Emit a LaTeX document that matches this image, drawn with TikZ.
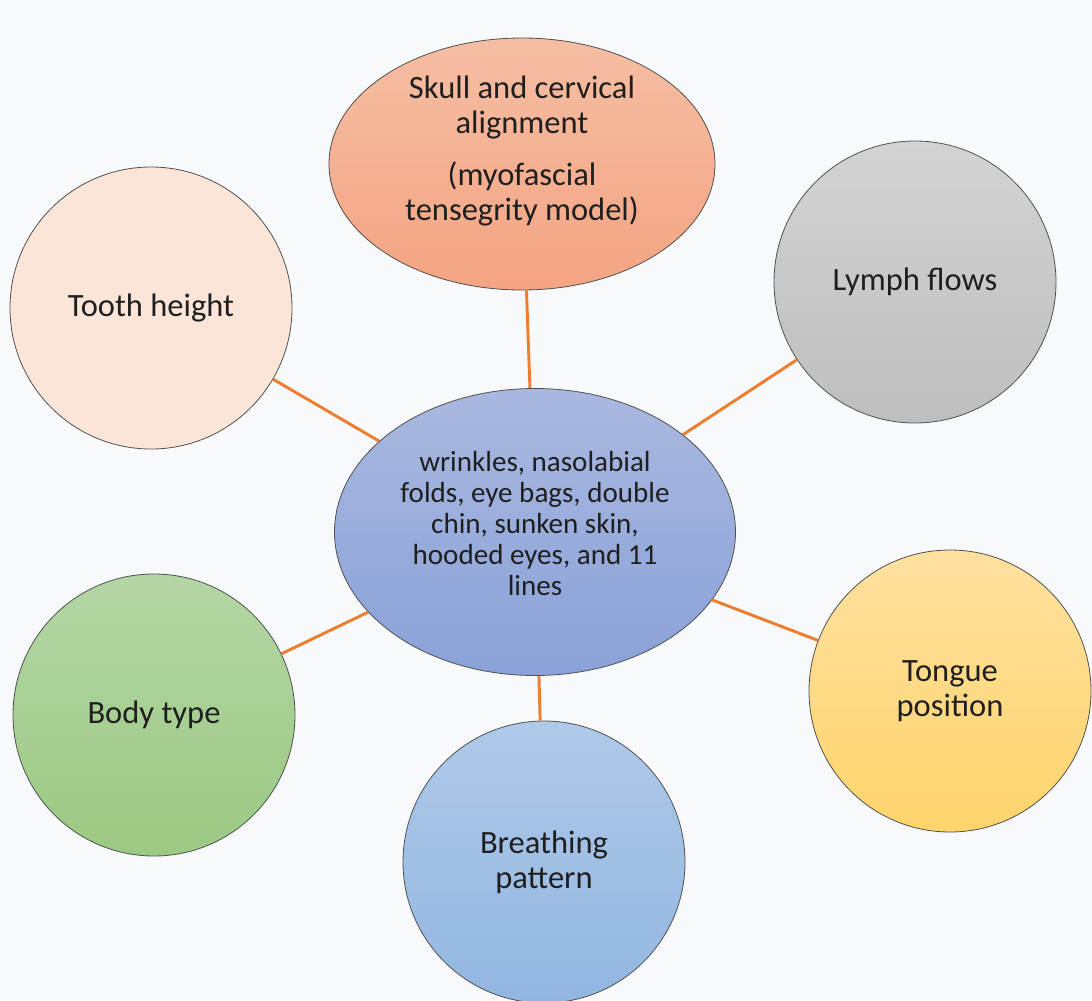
\documentclass[tikz,border=0pt]{standalone}
\usepackage{fontspec}
\setmainfont{Carlito}
\usepackage{tikz}
\usetikzlibrary{calc}
\usetikzlibrary{positioning}
\usetikzlibrary{shapes.geometric}

\definecolor{bgcol}{HTML}{F8F9FA}
\definecolor{linkcol}{HTML}{ED7D31}
\definecolor{rimcol}{HTML}{505050}
\definecolor{facetop}{HTML}{A9B8E0}
\definecolor{facebot}{HTML}{8AA2D8}
\definecolor{skulltop}{HTML}{F5BEA3}
\definecolor{skullbot}{HTML}{F4A482}
\definecolor{toothcol}{HTML}{FAE5D8}
\definecolor{lymphtop}{HTML}{D3D3D3}
\definecolor{lymphbot}{HTML}{BEBEBE}
\definecolor{tonguetop}{HTML}{FFE09F}
\definecolor{tonguebot}{HTML}{FFD46C}
\definecolor{bodytop}{HTML}{B4D6A5}
\definecolor{bodybot}{HTML}{9BC982}
\definecolor{breathtop}{HTML}{AFC9E9}
\definecolor{breathbot}{HTML}{92B6E1}

\begin{document}
\begin{tikzpicture}
	[x=0.75pt,y=-0.75pt,
	 every node/.style={draw=rimcol,line width=0.6pt,align=center,text=black!88,
	   font=\fontsize{24.4pt}{26.5pt}\selectfont},
	 bubble/.style={circle,minimum size=211.5pt,inner sep=0pt},
	 hub/.style={ellipse,inner sep=0pt},
	 words/.style={draw=none,inner sep=0pt},
	 link/.style={draw=linkcol,line width=2.2pt}]
	\fill[bgcol] (0,0) rectangle (1092,1000);
	\useasboundingbox (0,0) rectangle (1092,1000);
	% centre and satellites
	\node[hub,minimum width=300.75pt,minimum height=215.25pt,top color=facetop,bottom color=facebot] (face) at (535,532) {};
	\node[words,font=\fontsize{21.8pt}{23.3pt}\selectfont] (facetext) at (535,523.5)
	  {wrinkles, nasolabial\\folds, eye bags, double\\chin, sunken skin,\\hooded eyes, and 11\\lines};
	\node[hub,minimum width=289.5pt,minimum height=189pt,top color=skulltop,bottom color=skullbot] (skull) at (522,164) {};
	\node[words] (skulltext) at (522,151)
	  {Skull and cervical\\alignment\\[12pt](myofascial\\tensegrity model)};
	\node[bubble,fill=toothcol] (tooth) at (151,308) {Tooth height};
	\node[bubble,top color=lymphtop,bottom color=lymphbot] (lymph) at (915,282) {Lymph flows};
	\node[bubble,top color=tonguetop,bottom color=tonguebot] (tongue) at (950,691) {Tongue\\position};
	\node[bubble,top color=bodytop,bottom color=bodybot] (body) at (154,715) {Body type};
	\node[bubble,top color=breathtop,bottom color=breathbot] (breath) at (544,862) {Breathing\\pattern};
	% connectors
	\foreach \n in {skull,tooth,lymph,tongue,body,breath}
	  \draw[link] (face) -- (\n);
\end{tikzpicture}
\end{document}
